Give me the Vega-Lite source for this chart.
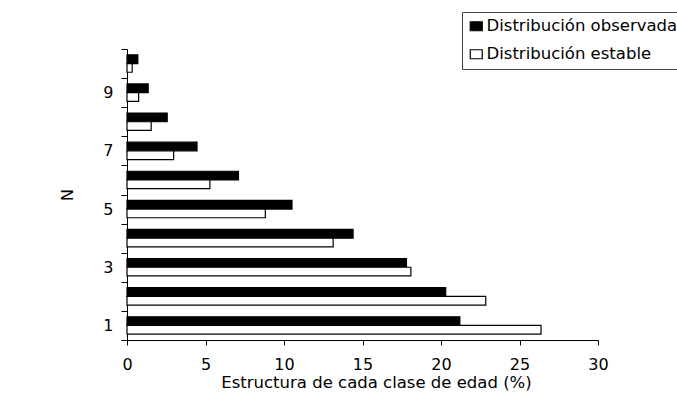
{
  "$schema": "https://vega.github.io/schema/vega-lite/v6.json",
  "width": 471,
  "height": 291,
  "autosize": {"type": "none"},
  "padding": {"left": 127, "top": 49, "right": 79, "bottom": 70},
  "background": "white",
  "config": {
    "view": {"stroke": null},
    "font": "DejaVu Sans",
    "axis": {"domainColor": "black", "tickColor": "black", "labelColor": "black", "titleColor": "black", "grid": false, "domainWidth": 1, "tickWidth": 1}
  },
  "data": {
    "values": [
      {"N": 1, "serie": "Distribución observada", "pct": 21.2},
      {"N": 1, "serie": "Distribución estable", "pct": 26.37},
      {"N": 2, "serie": "Distribución observada", "pct": 20.3},
      {"N": 2, "serie": "Distribución estable", "pct": 22.85},
      {"N": 3, "serie": "Distribución observada", "pct": 17.8},
      {"N": 3, "serie": "Distribución estable", "pct": 18.08},
      {"N": 4, "serie": "Distribución observada", "pct": 14.4},
      {"N": 4, "serie": "Distribución estable", "pct": 13.13},
      {"N": 5, "serie": "Distribución observada", "pct": 10.51},
      {"N": 5, "serie": "Distribución estable", "pct": 8.81},
      {"N": 6, "serie": "Distribución observada", "pct": 7.1},
      {"N": 6, "serie": "Distribución estable", "pct": 5.28},
      {"N": 7, "serie": "Distribución observada", "pct": 4.46},
      {"N": 7, "serie": "Distribución estable", "pct": 2.97},
      {"N": 8, "serie": "Distribución observada", "pct": 2.56},
      {"N": 8, "serie": "Distribución estable", "pct": 1.54},
      {"N": 9, "serie": "Distribución observada", "pct": 1.35},
      {"N": 9, "serie": "Distribución estable", "pct": 0.74},
      {"N": 10, "serie": "Distribución observada", "pct": 0.69},
      {"N": 10, "serie": "Distribución estable", "pct": 0.33}
    ]
  },
  "mark": {"type": "bar", "stroke": "black", "strokeWidth": 1.2},
  "encoding": {
    "y": {
      "field": "N",
      "type": "ordinal",
      "sort": "descending",
      "scale": {"paddingInner": 0, "paddingOuter": 0},
      "axis": {
        "title": "N",
        "titleFontSize": 16,
        "titleFontWeight": "normal",
        "titlePadding": 27,
        "labelAngle": 0,
        "labelFontSize": 16,
        "labelPadding": 8,
        "tickSize": 6,
        "tickBand": "extent",
        "labelExpr": "datum.value % 2 == 1 ? datum.label : ''"
      }
    },
    "yOffset": {
      "field": "serie",
      "type": "nominal",
      "sort": ["Distribución observada", "Distribución estable"],
      "scale": {"paddingInner": 0, "paddingOuter": 0.67}
    },
    "x": {
      "field": "pct",
      "type": "quantitative",
      "scale": {"domain": [0, 30], "nice": false},
      "axis": {
        "title": "Estructura de cada clase de edad (%)",
        "titleFontSize": 16.5,
        "titleFontWeight": "normal",
        "titlePadding": 2,
        "titleX": 249,
        "titleAlign": "center",
        "values": [0, 5, 10, 15, 20, 25, 30],
        "labelFontSize": 16,
        "labelPadding": 11,
        "tickSize": 5,
        "labelFlush": false
      }
    },
    "fill": {
      "field": "serie",
      "type": "nominal",
      "sort": ["Distribución observada", "Distribución estable"],
      "scale": {"domain": ["Distribución observada", "Distribución estable"], "range": ["black", "white"]},
      "legend": {
        "title": null,
        "orient": "none",
        "legendX": 335,
        "legendY": -37,
        "symbolType": "M-1,-0.75H1V0.75H-1Z",
        "symbolSize": 144,
        "symbolStrokeColor": "black",
        "symbolStrokeWidth": 1.2,
        "labelFontSize": 16.5,
        "labelLimit": 0,
        "labelColor": "black",
        "labelOffset": 2,
        "rowPadding": 11,
        "strokeColor": "#444444",
        "padding": 6
      }
    }
  }
}
